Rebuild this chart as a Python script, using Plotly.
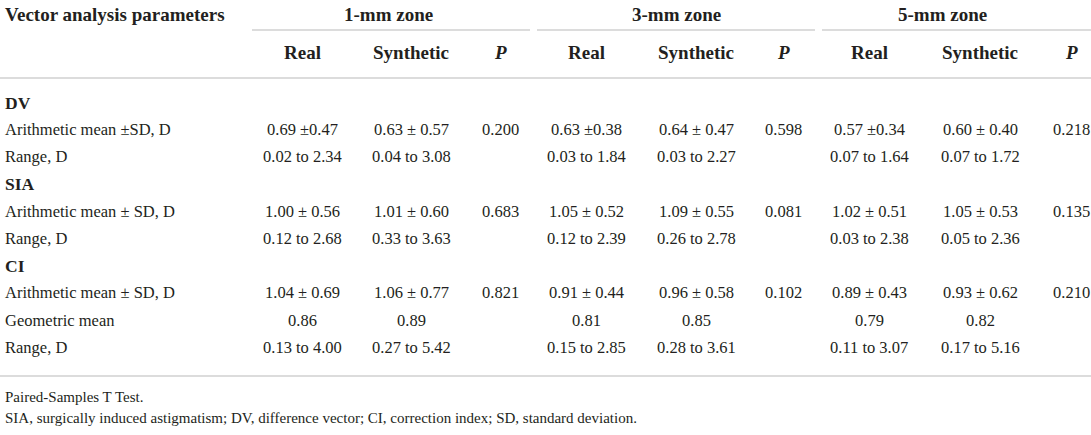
import plotly.graph_objects as go

# table contents
row_labels = ["DV", "Arithmetic mean ±SD, D", "Range, D",
              "SIA", "Arithmetic mean ± SD, D", "Range, D",
              "CI", "Arithmetic mean ± SD, D", "Geometric mean", "Range, D"]
section_rows = ["DV", "SIA", "CI"]

zones = ["1-mm zone", "3-mm zone", "5-mm zone"]
sub_headers = ["Real", "Synthetic", "P"]

zone1_real = ["", "0.69 ±0.47", "0.02 to 2.34", "", "1.00 ± 0.56", "0.12 to 2.68", "", "1.04 ± 0.69", "0.86", "0.13 to 4.00"]
zone1_syn = ["", "0.63 ± 0.57", "0.04 to 3.08", "", "1.01 ± 0.60", "0.33 to 3.63", "", "1.06 ± 0.77", "0.89", "0.27 to 5.42"]
zone1_p = ["", "0.200", "", "", "0.683", "", "", "0.821", "", ""]

zone3_real = ["", "0.63 ±0.38", "0.03 to 1.84", "", "1.05 ± 0.52", "0.12 to 2.39", "", "0.91 ± 0.44", "0.81", "0.15 to 2.85"]
zone3_syn = ["", "0.64 ± 0.47", "0.03 to 2.27", "", "1.09 ± 0.55", "0.26 to 2.78", "", "0.96 ± 0.58", "0.85", "0.28 to 3.61"]
zone3_p = ["", "0.598", "", "", "0.081", "", "", "0.102", "", ""]

zone5_real = ["", "0.57 ±0.34", "0.07 to 1.64", "", "1.02 ± 0.51", "0.03 to 2.38", "", "0.89 ± 0.43", "0.79", "0.11 to 3.07"]
zone5_syn = ["", "0.60 ± 0.40", "0.07 to 1.72", "", "1.05 ± 0.53", "0.05 to 2.36", "", "0.93 ± 0.62", "0.82", "0.17 to 5.16"]
zone5_p = ["", "0.218", "", "", "0.135", "", "", "0.210", "", ""]

footnotes = ["Paired-Samples T Test.",
             "SIA, surgically induced astigmatism; DV, difference vector; CI, correction index; SD, standard deviation."]

columns = [zone1_real, zone1_syn, zone1_p,
           zone3_real, zone3_syn, zone3_p,
           zone5_real, zone5_syn, zone5_p]

# layout (pixels)
W, H = 1091, 435
FONT = "Liberation Serif"
TXT = "#231f20"
RULE = "#d0d0d0"
BODY = 16.5
BOLD = 19

col_x = [302, 411, 500, 586, 696, 783, 869, 980, 1071]
zone_x = [388, 676, 942]
zone_lines = [(252, 530), (537, 815), (822, 1091)]
head1_y, head2_y = 14, 52
row_y0, row_dy = 102.5, 27.2
bottom_rule = 376
foot_y = [397, 418]

fig = go.Figure()


def put(x, y, text, anchor="center", bold=False, size=BODY):
    if bold:
        text = "<b>" + text + "</b>"
    fig.add_annotation(x=x, y=y, xref="x", yref="y", text=text, showarrow=False,
                       xanchor=anchor, yanchor="middle",
                       font=dict(family=FONT, size=size, color=TXT))


put(3, head1_y, "Vector analysis parameters", anchor="left", bold=True, size=BOLD)
for z, zx in zip(zones, zone_x):
    put(zx, head1_y, z, bold=True, size=BOLD)
for k, cx in enumerate(col_x):
    h = sub_headers[k % 3]
    put(cx, head2_y, "<i>P</i>" if h == "P" else h, bold=True, size=BOLD)

for i, lab in enumerate(row_labels):
    y = row_y0 + i * row_dy
    if lab in section_rows:
        put(3, y, lab, anchor="left", bold=True, size=17.5)
    else:
        put(3, y, lab, anchor="left")
    for cx, col in zip(col_x, columns):
        if col[i]:
            put(cx, y, col[i])

for fy, note in zip(foot_y, footnotes):
    put(3, fy, note, anchor="left", size=15)

# rules
for x0, x1 in zone_lines:
    fig.add_shape(type="line", x0=x0, x1=x1, y0=30, y1=30, xref="x", yref="y",
                  line=dict(color=RULE, width=1.6))
for yy in [78, bottom_rule]:
    fig.add_shape(type="line", x0=0, x1=W, y0=yy, y1=yy, xref="x", yref="y",
                  line=dict(color=RULE, width=1.6))

fig.update_layout(width=W, height=H, margin=dict(l=0, r=0, t=0, b=0),
                  plot_bgcolor="white", paper_bgcolor="white", showlegend=False)
fig.update_xaxes(range=[0, W], visible=False, fixedrange=True)
fig.update_yaxes(range=[H, 0], visible=False, fixedrange=True)

fig.write_html("out.html", config={"displayModeBar": False},
               post_script="document.body.style.margin='0';")
